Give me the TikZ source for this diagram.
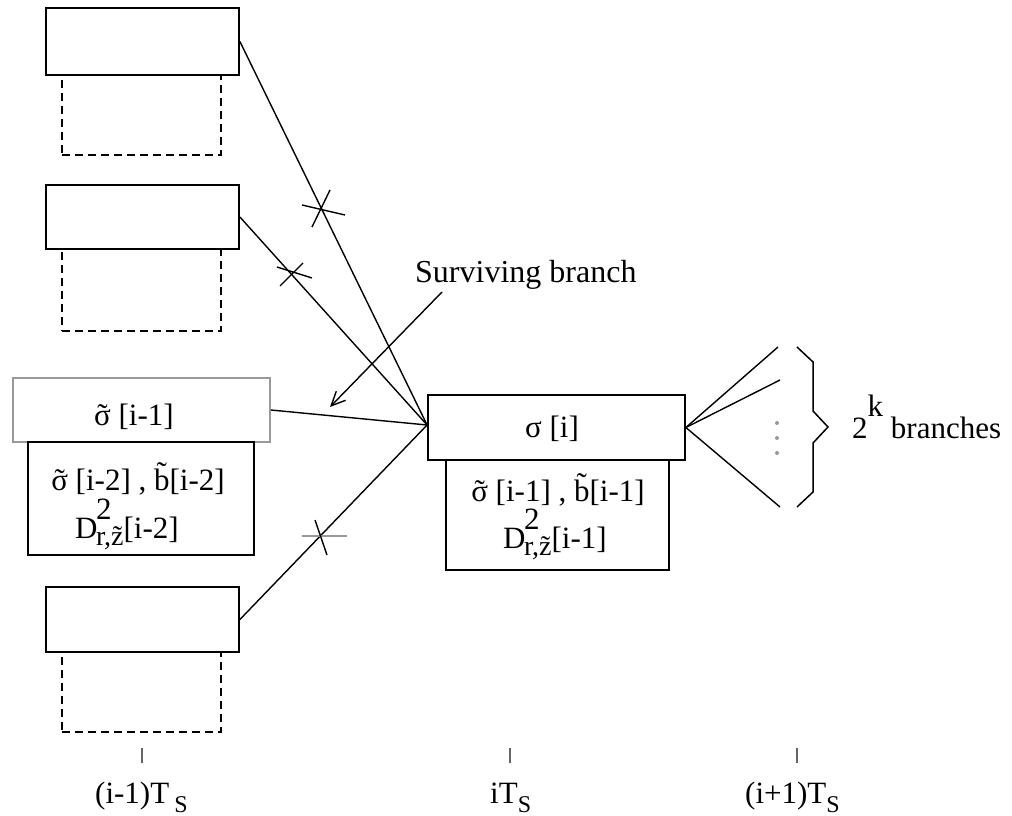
\documentclass[tikz,border=0pt]{standalone}
\usepackage{fontspec}
\setmainfont{Liberation Serif}
\usetikzlibrary{arrows.meta}
\newcommand\tld[2][0pt]{\ooalign{#2\cr\hidewidth\raisebox{#1}{\char"02DC}\hidewidth\cr}}
\newcommand\fs[1]{\fontsize{#1}{#1}\selectfont}
\begin{document}
\begin{tikzpicture}[x=1pt,y=-1pt,
  box/.style={draw=black,line width=1.8pt,rectangle,inner sep=0pt},
  dbox/.style={draw=black,line width=1.8pt,dash pattern=on 8pt off 5pt,rectangle,inner sep=0pt},
  gbox/.style={draw=black!40,line width=1.8pt,rectangle,inner sep=0pt},
  conn/.style={line width=1.4pt},
  crossmark/.style={line width=1.4pt},
  txt/.style={inner sep=0pt,anchor=base,font=\fs{31}},
  dot/.style={circle,fill=black!40,inner sep=0pt,minimum size=4pt},
  tick/.style={line width=1.3pt,black!60},
]
\useasboundingbox (0,0) rectangle (1012,816);

% left column: previous states
\node[dbox,minimum width=159pt,minimum height=80pt] (d1) at (141.5,115) {};
\node[box,fill=white,minimum width=193pt,minimum height=67pt] (b1) at (142.5,41.5) {};
\node[dbox,minimum width=159pt,minimum height=82pt] (d2) at (141.5,290) {};
\node[box,fill=white,minimum width=193pt,minimum height=64pt] (b2) at (142.5,217) {};
\node[gbox,minimum width=257pt,minimum height=64pt] (b3) at (141.5,410) {};
\node[box,minimum width=226pt,minimum height=113pt] (l3) at (141,498.5) {};
\node[dbox,minimum width=159pt,minimum height=80pt] (d4) at (141.5,692) {};
\node[box,fill=white,minimum width=193pt,minimum height=65pt] (b4) at (142.5,619.5) {};

% centre state
\node[box,minimum width=257pt,minimum height=65pt] (c) at (556.5,427.5) {};
\node[box,minimum width=223pt,minimum height=110pt] (cl) at (557.5,515) {};

% texts in boxes
\node[txt] (t3) at (134,425) {\tld{σ} [i-1]};
\node[txt] (t3a) at (138,490) {\tld{σ} [i-2] , \tld[0.22em]{b}[i-2]};
\node[txt,anchor=base west] (t3b) at (75,538) {D\kern-0.05em\rlap{\raisebox{0.6em}{2}}\raisebox{-0.25em}{\fs{28}r,\tld{z}}[i-2]};
\node[txt] (tc) at (552,437) {σ [i]};
\node[txt] (tca) at (558,501) {\tld{σ} [i-1] , \tld[0.22em]{b}[i-1]};
\node[txt,anchor=base west] (tcb) at (503,548) {D\kern-0.05em\rlap{\raisebox{0.6em}{2}}\raisebox{-0.25em}{\fs{28}r,\tld{z}}[i-1]};

% converging branches
\coordinate (cw) at ([yshift=2.5pt]c.west);
\draw[conn] (b1.east) -- (cw);
\draw[conn] (b2.east) -- (cw);
\draw[conn] (b3.east) -- (cw);
\draw[conn] (b4.east) -- (cw);

% crosses on discarded branches
\draw[crossmark] (302,205) -- (345,215) (330,190) -- (312,227);
\draw[crossmark] (277,267) -- (312,278) (303,263) -- (280,286);
\draw[line width=2pt,black!40] (302,536) -- (347,536);
\draw[crossmark] (315,520) -- (327,555);

% surviving branch label
\node[txt,anchor=base west,font=\fs{32}] (sb) at (415,282) {Surviving branch};
\coordinate (a0) at (442,292);
\coordinate (a1) at (330,407);
\draw[conn,-{Straight Barb[length=14pt,width=13pt]}] (a0) -- (a1);

% outgoing branches
\coordinate (r1) at (778,347);
\coordinate (r2) at (780,380);
\coordinate (r3) at (780,507);
\draw[conn] (c.east) -- (r1);
\draw[conn] (c.east) -- (r2);
\draw[conn] (c.east) -- (r3);
\node[dot] (k1) at (777,423) {};
\node[dot] (k2) at (777,438) {};
\node[dot] (k3) at (777,453) {};
\draw[line width=1.5pt] (797,347) -- (813,362) -- (813,411) -- (828,427) -- (813,443) -- (813,492) -- (797,507);
\node[txt,anchor=base west] (br) at (852,438) {2\raisebox{0.68em}{k} branches};

% time axis
\draw[tick] (142,748) -- (142,763);
\draw[tick] (510,748) -- (510,763);
\draw[tick] (797,748) -- (797,763);
\node[txt,anchor=base west] (l1) at (95,803) {(i-1)T\,\raisebox{-0.3em}{\fs{24}S}};
\node[txt,anchor=base west] (l2) at (490,803) {iT\raisebox{-0.3em}{\fs{24}S}};
\node[txt,anchor=base west] (l3t) at (745,803) {(i+1)T\raisebox{-0.3em}{\fs{24}S}};
\end{tikzpicture}
\end{document}
